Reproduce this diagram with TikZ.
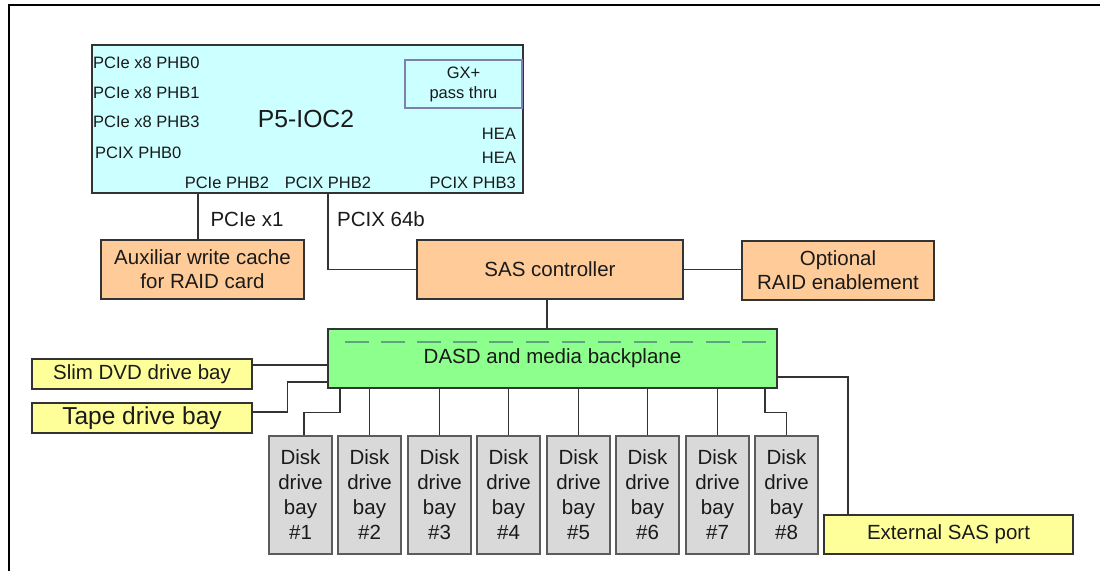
\documentclass[tikz,border=0pt]{standalone}
\usepackage{fontspec}
\setmainfont{Liberation Sans}
\usetikzlibrary{calc}
\definecolor{cyanfill}{HTML}{CCFFFF}
\definecolor{orangefill}{HTML}{FFCC99}
\definecolor{yellowfill}{HTML}{FFFF99}
\definecolor{greenfill}{HTML}{8CFF8C}
\definecolor{grayfill}{HTML}{D9D9D9}
\definecolor{edge}{HTML}{333333}
\definecolor{gxedge}{HTML}{7F80B0}
\definecolor{dashgreen}{HTML}{5FA37F}
\definecolor{txt}{HTML}{1A1A1A}
\begin{document}
\begin{tikzpicture}[x=1pt,y=-1pt,
  base/.style={draw=edge, line width=1.2pt, inner sep=0pt, align=center, text=txt,
    font=\fontsize{20.5}{24}\selectfont},
  p5box/.style={base, fill=cyanfill},
  gxbox/.style={base, draw=gxedge, line width=1.8pt, fill=cyanfill, font=\fontsize{16.5}{20}\selectfont},
  cachebox/.style={base, fill=orangefill},
  ybox/.style={base, fill=yellowfill},
  dasdbox/.style={base, fill=greenfill},
  diskbox/.style={base, fill=grayfill, draw=edge!80, minimum width=63, minimum height=118,
    font=\fontsize{20.5}{25}\selectfont},
  lbl/.style={inner sep=0pt, text=txt, font=\fontsize{16.5}{20}\selectfont},
  biglbl/.style={inner sep=0pt, text=txt, font=\fontsize{20.5}{24}\selectfont},
  wire/.style={draw=edge, line width=1.2pt}
]
\useasboundingbox (0,0) rectangle (1100,571);
\draw[black, line width=1.5pt] (9,571) -- (9,5) -- (1100,5);

% P5-IOC2
\node[p5box, minimum width=431, minimum height=148] (p5) at (307.5,119) {};
\node[gxbox, minimum width=117, minimum height=48] (gx) at (463.5,84) {GX+\\pass thru};
\node[inner sep=0pt, text=txt, font=\fontsize{24.7}{28}\selectfont, anchor=base] (p5t) at (306,127) {P5-IOC2};
\node[lbl, anchor=base west] (l0) at (93,68) {PCIe x8 PHB0};
\node[lbl, anchor=base west] (l1) at (93,98) {PCIe x8 PHB1};
\node[lbl, anchor=base west] (l3) at (93,127) {PCIe x8 PHB3};
\node[lbl, anchor=base west] (lx0) at (95,158) {PCIX PHB0};
\node[lbl, anchor=base] (le2) at (227,188) {PCIe PHB2};
\node[lbl, anchor=base] (lx2) at (328,188) {PCIX PHB2};
\node[lbl, anchor=base east] (hea1) at (516,139) {HEA};
\node[lbl, anchor=base east] (hea2) at (516,163) {HEA};
\node[lbl, anchor=base east] (lx3) at (516,188) {PCIX PHB3};

% second row
\node[cachebox, minimum width=203, minimum height=59] (aux) at (202.5,269.5) {Auxiliar write cache\\for RAID card};
\node[cachebox, minimum width=266, minimum height=59] (sas) at (550,269.5) {SAS controller};
\node[cachebox, minimum width=192, minimum height=59] (opt) at (838,270.5) {Optional\\RAID enablement};
\node[biglbl, anchor=base] (pcie1) at (247,226) {PCIe x1};
\node[biglbl, anchor=base] (pcix64) at (381,226) {PCIX 64b};

% backplane
\node[dasdbox, minimum width=449, minimum height=59] (dasd) at (552.5,358.5) {DASD and media backplane};
\draw[dashgreen, line width=1.2pt, dash pattern=on 23.5pt off 12.6pt] (345,342) -- (766,342);

\node[ybox, minimum width=220, minimum height=30] (slim) at (142,374) {Slim DVD drive bay};
\node[ybox, minimum width=220, minimum height=30, font=\fontsize{24.5}{28}\selectfont] (tape) at (142,418) {Tape drive bay};
\node[ybox, minimum width=249, minimum height=39] (ext) at (948.5,534.5) {External SAS port};

% disks
\foreach \i/\cx in {1/300.5,2/369.5,3/439.5,4/508.5,5/578.5,6/647.5,7/717.5,8/786.5}{
  \node[diskbox] (d\i) at (\cx,495) {Disk\\drive\\bay\\\#\i};
}

% connectors
\draw[wire] ([xshift=-4.5pt]aux.north) -- ([xshift=-4.5pt]aux.north |- p5.south);
\draw[wire] ([xshift=20.5pt]p5.south) |- (sas.west);
\draw[wire] (sas.east) -- (sas.east -| opt.west);
\draw[wire] ([xshift=-3pt]sas.south) -- ([xshift=-3pt]sas.south |- dasd.north);
\draw[wire] ([yshift=9pt]slim.east) -- ([yshift=9pt]slim.east -| dasd.west);
\coordinate (t1) at ([yshift=6pt]tape.east);
\coordinate (t2) at ([yshift=-23.5pt]dasd.west);
\draw[wire] (t1) -- ++(35,0) |- (t2);
\coordinate (b1) at ([xshift=-212.5pt]dasd.south);
\draw[wire] (b1) -- ++(0,24) -| ([xshift=3.5pt]d1.north);
\foreach \i in {2,...,7}{
  \draw[wire] (d\i.north) -- (d\i.north |- dasd.south);
}
\coordinate (b8) at ([xshift=212.5pt]dasd.south);
\draw[wire] (b8) -- ++(0,24) -| (d8.north);
\draw[wire] ([yshift=-18.5pt]dasd.east) -| ([xshift=-100.5pt]ext.north);
\end{tikzpicture}
\end{document}
